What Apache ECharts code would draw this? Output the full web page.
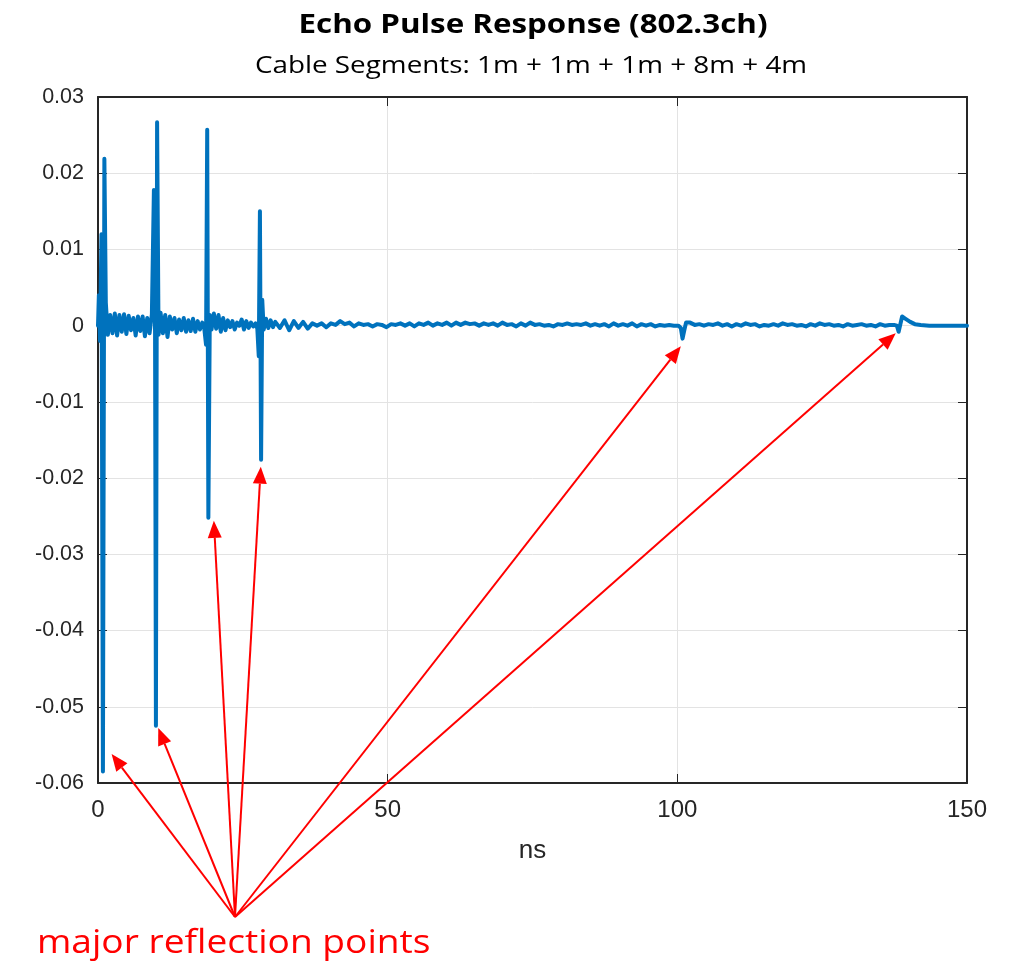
<!DOCTYPE html>
<html>
<head>
<meta charset="utf-8">
<script src="https://cdn.jsdelivr.net/npm/echarts@6/dist/echarts.min.js"></script>
<style>
  html, body { margin: 0; padding: 0; background: #fff; }
  #main { width: 1015px; height: 964px; }
</style>
</head>
<body>
<div id="main"></div>
<script>
// time axis (ns) and echo amplitude
var timeNs = [
    0, 0.15, 0.35, 0.6, 0.85, 1.1, 1.35, 1.7, 2.1, 2.5, 2.9, 3.3, 3.7, 4.1, 4.5, 4.9, 5.3, 5.7, 6.1, 6.5,
    6.9, 7.3, 7.7, 8.1, 8.5, 8.9, 9.3, 9.65, 9.85, 10.0, 10.2, 10.45, 10.8, 11.2, 11.6, 12.0, 12.4, 12.8, 13.2, 13.6,
    14.0, 14.4, 14.8, 15.2, 15.6, 16.0, 16.4, 16.8, 17.2, 17.6, 18.0, 18.35, 18.65, 18.85, 19.05, 19.3, 19.6, 20.0, 20.4, 20.8,
    21.2, 21.6, 22.0, 22.4, 22.8, 23.2, 23.6, 24.0, 24.4, 24.8, 25.2, 25.6, 26.0, 26.4, 26.8, 27.2, 27.5, 27.75, 27.95, 28.15,
    28.35, 28.6, 29.0, 29.4, 29.8, 30.2, 30.6, 31.4, 32.2, 33.0, 33.8, 34.6, 35.4, 36.2, 37.0, 37.8, 38.6, 39.4, 40.2, 41.0,
    41.8, 42.6, 43.4, 44.2, 45.0, 45.8, 46.6, 47.4, 48.2, 49.0, 49.8, 50.6, 51.4, 52.2, 53.0, 53.8, 54.6, 55.4, 56.2, 57.0,
    57.8, 58.6, 59.4, 60.2, 61.0, 61.8, 62.6, 63.4, 64.2, 65.0, 65.8, 66.6, 67.4, 68.2, 69.0, 69.8, 70.6, 71.4, 72.2, 73.0,
    73.8, 74.6, 75.4, 76.2, 77.0, 77.8, 78.6, 79.4, 80.2, 81.0, 81.8, 82.6, 83.4, 84.2, 85.0, 85.8, 86.6, 87.4, 88.2, 89.0,
    89.8, 90.6, 91.4, 92.2, 93.0, 93.8, 94.6, 95.4, 96.2, 97.0, 97.8, 98.6, 99.4, 100.2, 100.6, 100.9, 101.2, 101.5, 102.2, 103.0,
    103.8, 104.6, 105.4, 106.2, 107.0, 107.8, 108.6, 109.4, 110.2, 111.0, 111.8, 112.6, 113.4, 114.2, 115.0, 115.8, 116.6, 117.4, 118.2, 119.0,
    119.8, 120.6, 121.4, 122.2, 123.0, 123.8, 124.6, 125.4, 126.2, 127.0, 127.8, 128.6, 129.4, 130.2, 131.0, 131.8, 132.6, 133.4, 134.2, 135.0,
    135.8, 136.6, 137.4, 137.9, 138.2, 138.8, 139.4, 140.2, 141.0, 142.0, 143.5, 146.0, 150.0
];
var echoAmp = [
    0.0, 0.004, -0.002, 0.012, -0.0585, 0.0219, 0.003, -0.0012, 0.0014, -0.001, 0.0016, -0.0013, 0.0014, -0.0008, 0.0015, -0.0011, 0.0013, -0.0006, 0.001, -0.0013,
    0.0012, -0.0007, 0.0012, -0.0014, 0.001, -0.001, 0.0015, 0.0178, -0.001, -0.0525, 0.0267, -0.0012, 0.0017, -0.001, 0.0014, -0.0015, 0.0012, -0.0005, 0.001, -0.001,
    0.0008, -0.0006, 0.001, -0.0008, 0.0007, -0.0007, 0.0009, -0.0008, 0.0006, -0.0005, 0.0004, -0.0004, -0.0025, 0.0257, -0.0252, 0.0014, -0.0005, 0.0016, -0.0004, 0.0014,
    -0.0008, 0.001, -0.0006, 0.0007, -0.0002, 0.0006, -0.0005, 0.0004, 0.0, 0.0008, -0.0005, 0.0006, -0.0003, 0.0004, -0.0001, 0.0003, -0.0004, -0.004, 0.015, -0.0176,
    0.0034, -0.0005, 0.0009, -0.0003, 0.0007, -0.0002, 0.0005, -0.0003, 0.0007, -0.0006, 0.0006, -0.0003, 0.0005, -0.0004, 0.0003, 0.0, 0.0003, -0.0002, 0.0003, 0.0001,
    0.0006, 0.0002, 0.0004, -0.0001, 0.0003, 0.0001, 0.0002, -0.0001, 0.0002, 0.0001, -0.0002, 0.0002, 0.0001, 0.0003, 0.0, 0.0003, -0.0001, 0.0003, 0.0001, 0.0004,
    0.0, 0.0003, 0.0001, 0.0004, 0.0, 0.0004, 0.0001, 0.0004, 0.0002, 0.0003, 0.0, 0.0003, 0.0001, 0.0003, 0.0, 0.0004, 0.0001, 0.0002, -0.0001, 0.0003,
    0.0, 0.0004, 0.0001, 0.0002, 0.0, 0.0001, -0.0001, 0.0002, 0.0001, 0.0003, 0.0001, 0.0002, 0.0001, 0.0003, 0.0, 0.0002, 0.0, 0.0002, -0.0001, 0.0003,
    0.0, 0.0002, 0.0, 0.0003, -0.0001, 0.0002, 0.0, 0.0002, -0.0001, 0.0001, 0.0, 0.0001, 0.0, 0.0, -0.0003, -0.0017, -0.0006, 0.0004, 0.0004, 0.0001,
    0.0002, 0.0, 0.0002, 0.0001, 0.0003, 0.0, 0.0002, -0.0001, 0.0002, 0.0, 0.0003, 0.0001, 0.0002, -0.0001, 0.0001, 0.0, 0.0002, 0.0, 0.0003, 0.0001,
    0.0002, 0.0, 0.0001, -0.0001, 0.0002, 0.0, 0.0003, 0.0001, 0.0002, 0.0, 0.0001, -0.0001, 0.0002, 0.0, 0.0001, 0.0002, 0.0, 0.0001, -0.0001, 0.0002,
    0.0, 0.0001, 0.0001, 0.0, -0.0008, 0.0012, 0.0009, 0.0005, 0.0002, 0.0001, 0.0, 0.0, 0.0
];
// arrow tips (ns, amplitude) of the "major reflection points" callout
var reflectNs = [2.35, 10.4, 20.0, 28.1, 100.6, 137.7];
var reflectAmp = [-0.0562, -0.0528, -0.0256, -0.0185, -0.0027, -0.001];

var xTicks = { min: 0, max: 150, interval: 50 };
var yTicks = { min: -0.06, max: 0.03, interval: 0.01 };

var titleText = 'Echo Pulse Response (802.3ch)';
var subtitleText = 'Cable Segments: 1m + 1m + 1m + 8m + 4m';
var calloutText = 'major reflection points';

var seriesData = timeNs.map(function (t, i) { return [t, echoAmp[i]]; });

var chart = echarts.init(document.getElementById('main'));
var axisColor = '#262626';
var labelFont = "'Liberation Sans', Arial, sans-serif";

var option = {
    animation: false,
    backgroundColor: '#ffffff',
    grid: { left: 98, right: 48, top: 97, bottom: 181 },
    xAxis: [
        {
            type: 'value', min: xTicks.min, max: xTicks.max, interval: xTicks.interval,
            name: 'ns', nameLocation: 'middle', nameGap: 55,
            nameTextStyle: { fontFamily: labelFont, fontSize: 26, color: axisColor },
            axisLine: { show: true, onZero: false, lineStyle: { color: axisColor, width: 2 } },
            axisTick: { show: true, inside: true, length: 9, lineStyle: { color: axisColor, width: 1 } },
            axisLabel: { fontFamily: labelFont, fontSize: 24, color: axisColor, margin: 15 },
            splitLine: { show: true, lineStyle: { color: '#e3e3e3', width: 1 } }
        },
        {
            type: 'value', position: 'top', min: xTicks.min, max: xTicks.max, interval: xTicks.interval,
            axisLine: { show: true, onZero: false, lineStyle: { color: axisColor, width: 2 } },
            axisTick: { show: true, inside: true, length: 9, lineStyle: { color: axisColor, width: 1 } },
            axisLabel: { show: false },
            splitLine: { show: false }
        }
    ],
    yAxis: [
        {
            type: 'value', min: yTicks.min, max: yTicks.max, interval: yTicks.interval,
            axisLine: { show: true, onZero: false, lineStyle: { color: axisColor, width: 2 } },
            axisTick: { show: true, inside: true, length: 9, lineStyle: { color: axisColor, width: 1 } },
            axisLabel: { fontFamily: labelFont, fontSize: 21.5, color: axisColor, margin: 14 },
            splitLine: { show: true, lineStyle: { color: '#e3e3e3', width: 1 } }
        },
        {
            type: 'value', position: 'right', min: yTicks.min, max: yTicks.max, interval: yTicks.interval,
            axisLine: { show: true, onZero: false, lineStyle: { color: axisColor, width: 2 } },
            axisTick: { show: true, inside: true, length: 9, lineStyle: { color: axisColor, width: 1 } },
            axisLabel: { show: false },
            splitLine: { show: false }
        }
    ],
    series: [
        {
            type: 'line',
            data: seriesData,
            showSymbol: false,
            lineStyle: { color: '#0072BD', width: 4, join: 'round', cap: 'round' },
            z: 3
        }
    ]
};
chart.setOption(option);

// titles and callout, stretched a little wider like the source image
var graphics = [
    {
        type: 'text', x: 533, y: 25, scaleX: 1.16, z: 100,
        style: { text: titleText, font: "bold 27px 'Open Sans'", fill: '#000', align: 'center', verticalAlign: 'middle' }
    },
    {
        type: 'text', x: 531, y: 66, scaleX: 1.16, z: 100,
        style: { text: subtitleText, font: "24px 'Open Sans'", fill: '#000', align: 'center', verticalAlign: 'middle' }
    },
    {
        type: 'text', x: 37, y: 944, scaleX: 1.16, z: 100,
        style: { text: calloutText, font: "32px 'Open Sans'", fill: '#ff0000', align: 'left', verticalAlign: 'middle' }
    }
];

// callout arrows: all start from one point under the plot
var arrowFrom = [235, 917];
var headLen = 17, headHalf = 7;
reflectNs.forEach(function (t, i) {
    var tip = chart.convertToPixel({ gridIndex: 0 }, [t, reflectAmp[i]]);
    var dx = tip[0] - arrowFrom[0], dy = tip[1] - arrowFrom[1];
    var len = Math.sqrt(dx * dx + dy * dy);
    var ux = dx / len, uy = dy / len;
    var bx = tip[0] - ux * headLen, by = tip[1] - uy * headLen;
    graphics.push({
        type: 'line', z: 100,
        shape: { x1: arrowFrom[0], y1: arrowFrom[1], x2: bx, y2: by },
        style: { stroke: '#ff0000', lineWidth: 2 }
    });
    graphics.push({
        type: 'polygon', z: 100,
        shape: { points: [tip, [bx - uy * headHalf, by + ux * headHalf], [bx + uy * headHalf, by - ux * headHalf]] },
        style: { fill: '#ff0000' }
    });
});
chart.setOption({ graphic: graphics });
</script>
</body>
</html>
